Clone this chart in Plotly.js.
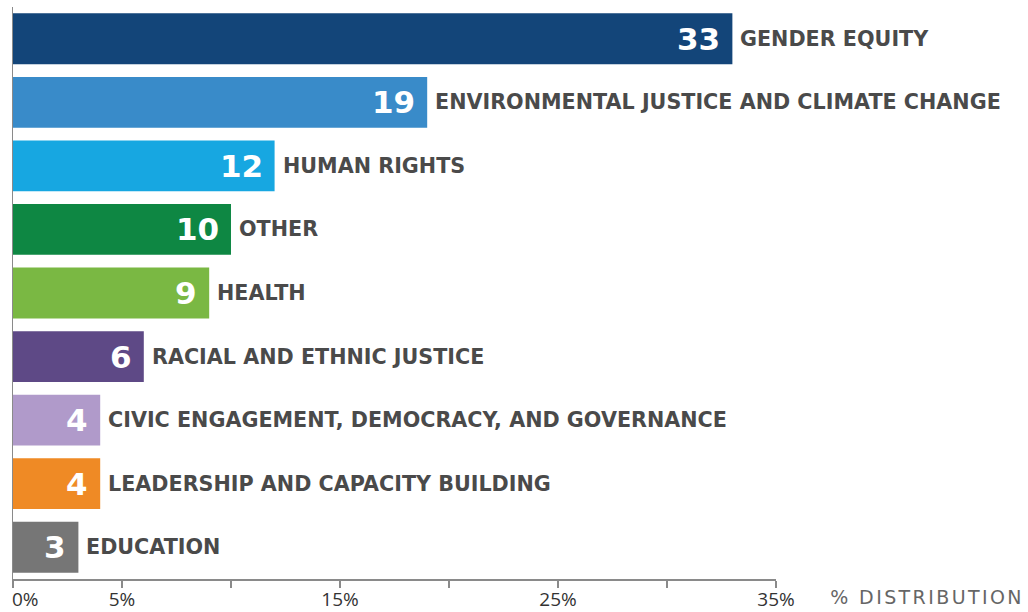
<!DOCTYPE html>
<html>
<head>
<meta charset="utf-8">
<script src="https://cdn.plot.ly/plotly-3.0.1.min.js"></script>
<style>
html,body{margin:0;padding:0;background:#fff;}
#chart{width:1028px;height:612px;}
</style>
</head>
<body>
<div id="chart"></div>
<script>
const categories = [
  "GENDER EQUITY",
  "ENVIRONMENTAL JUSTICE AND CLIMATE CHANGE",
  "HUMAN RIGHTS",
  "OTHER",
  "HEALTH",
  "RACIAL AND ETHNIC JUSTICE",
  "CIVIC ENGAGEMENT, DEMOCRACY, AND GOVERNANCE",
  "LEADERSHIP AND CAPACITY BUILDING",
  "EDUCATION"
];
const values = [33, 19, 12, 10, 9, 6, 4, 4, 3];
const colors = ["#134579", "#398BC9", "#17A7E1", "#0E8743", "#7AB843", "#5E4986", "#B09ACA", "#EF8A25", "#767676"];
const tickVals = [0, 5, 10, 15, 20, 25, 30, 35];
const tickText = ["", "5%", "", "15%", "", "25%", "", "35%"];
const zeroLabel = "0%";
const axisLabel = "% DISTRIBUTION";

const numFont = {family: "DejaVu Sans, sans-serif", size: 31, color: "#ffffff", weight: 700};
const labFont = {family: "DejaVu Sans, sans-serif", size: 20.7, color: "#4a4a4a", weight: 700};
const tickFont = {family: "Open Sans, sans-serif", size: 19, color: "#333333"};

const annotations = [];
categories.forEach((c, i) => {
  annotations.push({x: values[i], y: c, xref: "x", yref: "y", text: String(values[i]),
    showarrow: false, xanchor: "right", yanchor: "middle", xshift: -10, font: numFont});
  annotations.push({x: values[i], y: c, xref: "x", yref: "y", text: c,
    showarrow: false, xanchor: "left", yanchor: "middle", xshift: 6, font: labFont});
});
annotations.push({x: 0, y: 0, xref: "x", yref: "paper", text: zeroLabel,
  showarrow: false, xanchor: "left", yanchor: "middle", xshift: -3, yshift: -20, font: tickFont});
annotations.push({x: 0.82, y: -0.032, xref: "paper", yref: "paper", text: axisLabel,
  showarrow: false, xanchor: "left", yanchor: "middle",
  font: {family: "DejaVu Sans, sans-serif", size: 19, color: "#666666"}});

const trace = {
  type: "bar",
  orientation: "h",
  x: values,
  y: categories,
  marker: {color: colors},
  hoverinfo: "skip",
  cliponaxis: false
};

const layout = {
  width: 1028, height: 612,
  margin: {l: 13, r: 0, t: 7, b: 33},
  paper_bgcolor: "#ffffff", plot_bgcolor: "#ffffff",
  bargap: 0.2,
  showlegend: false,
  xaxis: {
    domain: [0, 0.7517], range: [0, 35], fixedrange: true,
    showgrid: false, zeroline: false,
    showline: true, linecolor: "#8a8a8a", linewidth: 1.5,
    ticks: "outside", ticklen: 7, tickcolor: "#8a8a8a", tickwidth: 1.5,
    tickvals: tickVals, ticktext: tickText,
    ticklabeloverflow: "allow", ticklabelstandoff: -4,
    tickfont: tickFont
  },
  yaxis: {
    autorange: "reversed", type: "category",
    showticklabels: false, showgrid: false, zeroline: false,
    showline: true, linecolor: "#8a8a8a", linewidth: 1.5, ticks: ""
  },
  annotations: annotations
};

Plotly.newPlot("chart", [trace], layout, {displayModeBar: false, staticPlot: true}).then(gd => {
  gd.querySelectorAll(".annotation-text").forEach(t => {
    if (t.textContent === axisLabel) t.style.letterSpacing = "2.4px";
  });
});
</script>
</body>
</html>
